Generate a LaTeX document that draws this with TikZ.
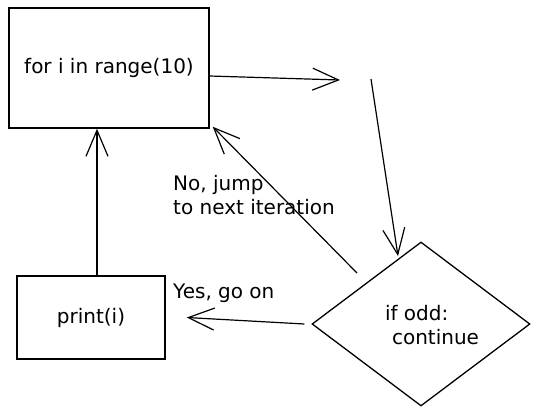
\documentclass[tikz,border=0pt]{standalone}
\usepackage{fontspec}
\setmainfont{DejaVu Sans}
\usetikzlibrary{arrows.meta,shapes.geometric}
\begin{document}
\begin{tikzpicture}[x=1pt,y=-1pt,
  txt/.style={font=\fontsize{20}{24}\selectfont},
  box/.style={draw,line width=1.5pt,inner sep=0pt,txt},
  lbl/.style={inner sep=0pt,txt,align=left},
  flow/.style={line width=1.2pt,-{Straight Barb[length=26pt,width=22pt,line width=1.2pt]}}]
\useasboundingbox (0,0) rectangle (539,416);
% nodes
\node[box,minimum width=200pt,minimum height=120pt] (loop) at (109,68) {for i in range(10)};
\node[box,minimum width=148pt,minimum height=83pt] (pr) at (91,317.5) {print(i)};
\node[draw,diamond,line width=1.3pt,minimum width=218pt,minimum height=164pt,inner sep=0pt] (cond) at (421,324) {};
\node[lbl] (condtext) at (432,325) {if odd:\\\hspace{0.35em}continue};
% labels
\node[lbl,anchor=west] (nolbl) at (173,195) {No, jump\\to next iteration};
\node[lbl,anchor=west] (yeslbl) at (173,293) {Yes, go on};
% free ends
\coordinate (a1) at (340,80);
\coordinate (a2) at (371,79);
\coordinate (c2) at (398,256);
\coordinate (c3) at (357,273);
% connectors
\draw[flow] ([yshift=-8pt]loop.east) -- (a1);
\draw[flow] (a2) -- (c2);
\draw[flow] (c3) -- ([shift={(3pt,2pt)}]loop.south east);
\draw[flow] ([xshift=-7pt]cond.west) -- ([xshift=21pt]pr.east);
\draw[flow] ([xshift=6pt]pr.north) -- ([xshift=-12pt]loop.south);
\end{tikzpicture}
\end{document}
